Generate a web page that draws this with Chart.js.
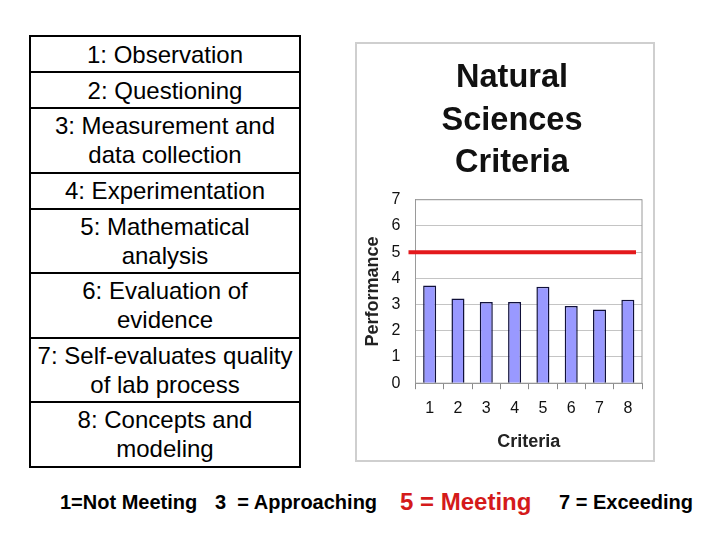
<!DOCTYPE html>
<html lang="en">
<head>
    <meta charset="UTF-8">
    <title>Natural Sciences Criteria</title>
    <script src="https://cdn.jsdelivr.net/npm/chart.js"></script>
    <style>
        body {
            margin: 0;
            width: 720px;
            height: 540px;
            background: white;
            position: relative;
            font-family: Arial, "Liberation Sans", sans-serif;
            overflow: hidden;
        }
        .criteria-list {
            position: absolute;
            left: 29px;
            top: 37px;
            width: 272px;
        }
        .criteria-item {
            box-sizing: border-box;
            border: 2px solid black;
            margin-top: -2px; /* collapse shared borders */
            display: flex;
            align-items: center;
            justify-content: center;
            text-align: center;
            font-size: 24px;
            line-height: 29px;
            color: black;
        }
        .chart-panel {
            position: absolute;
            left: 355px;
            top: 42px;
            width: 300px;
            height: 420px;
            box-sizing: border-box;
            border: 2px solid #cfcfcf;
        }
        .scale-note {
            position: absolute;
            top: 488px;
            font-weight: bold;
            font-size: 20px;
            line-height: 28px;
            white-space: pre;
        }
        .scale-note.meeting {
            color: #d41a1a;
            font-size: 24px;
            top: 488px;
        }
    </style>
</head>
<body>
    <div class="criteria-list" id="criteria-list"></div>

    <div class="chart-panel">
        <canvas id="criteriaChart" width="296" height="416"></canvas>
    </div>

    <div class="scale-note" style="left: 60px;">1=Not Meeting</div>
    <div class="scale-note" style="left: 215px;">3  = Approaching</div>
    <div class="scale-note meeting" style="left: 400px;">5 = Meeting</div>
    <div class="scale-note" style="left: 559px;">7 = Exceeding</div>

    <script>
        const criteriaLabels = ["1", "2", "3", "4", "5", "6", "7", "8"];
        const criteriaNames = [
            ["1: Observation"],
            ["2: Questioning"],
            ["3: Measurement and", "data collection"],
            ["4: Experimentation"],
            ["5: Mathematical", "analysis"],
            ["6: Evaluation of", "evidence"],
            ["7: Self-evaluates quality", "of lab process"],
            ["8: Concepts and", "modeling"]
        ];
        const performance = [3.73, 3.23, 3.10, 3.10, 3.68, 2.95, 2.81, 3.18];
        const meetingLevel = 5;

        // table on the left: one or two lines of text per row
        const list = document.getElementById("criteria-list");
        criteriaNames.forEach(lines => {
            const item = document.createElement("div");
            item.className = "criteria-item";
            item.style.height = (lines.length > 1 ? 66.5 : 38) + "px";
            item.innerHTML = lines.join("<br>");
            list.appendChild(item);
        });

        // frame around the plot area, like the Excel chart
        const plotFrame = {
            id: "plotFrame",
            beforeDatasetsDraw(chart) {
                const { ctx, chartArea } = chart;
                ctx.save();
                ctx.strokeStyle = "#9a9a9a";
                ctx.lineWidth = 1;
                ctx.strokeRect(chartArea.left, chartArea.top, chartArea.width, chartArea.height);
                ctx.restore();
            }
        };

        // red "meeting" line drawn across the bars
        const meetingLine = {
            id: "meetingLine",
            afterDatasetsDraw(chart) {
                const { ctx, chartArea, scales } = chart;
                const y = scales.y.getPixelForValue(meetingLevel);
                ctx.save();
                ctx.strokeStyle = "#e3191c";
                ctx.lineWidth = 4;
                ctx.beginPath();
                ctx.moveTo(chartArea.left - 7, y);
                ctx.lineTo(chartArea.right - 6, y);
                ctx.stroke();
                ctx.restore();
            }
        };

        const ctx = document.getElementById("criteriaChart").getContext("2d");

        new Chart(ctx, {
            type: "bar",
            data: {
                labels: criteriaLabels,
                datasets: [{
                    label: "Performance",
                    data: performance,
                    backgroundColor: "#9999ff",
                    borderColor: "#10103a",
                    borderWidth: 1.5,
                    barPercentage: 0.46,
                    categoryPercentage: 1
                }]
            },
            options: {
                responsive: false,
                animation: false,
                layout: {
                    padding: { left: 25, right: 11, top: 0, bottom: 3 }
                },
                plugins: {
                    legend: { display: false },
                    tooltip: { enabled: false },
                    title: {
                        display: true,
                        text: ["Natural", "Sciences", "Criteria"],
                        color: "#111",
                        font: { family: "Arial, 'Liberation Sans', sans-serif", size: 32.5, weight: "bold", lineHeight: 1.31 },
                        padding: { top: 13, bottom: 15 }
                    }
                },
                scales: {
                    x: {
                        grid: {
                            offset: true,
                            drawOnChartArea: false,
                            tickLength: 6,
                            color: "#8a8a8a"
                        },
                        border: { color: "#8a8a8a" },
                        ticks: {
                            color: "#111",
                            padding: 10,
                            font: { family: "Arial, 'Liberation Sans', sans-serif", size: 16 }
                        },
                        title: {
                            display: true,
                            text: "Criteria",
                            color: "#222",
                            font: { family: "Arial, 'Liberation Sans', sans-serif", size: 18, weight: "bold" },
                            padding: { top: 3, bottom: 4 }
                        }
                    },
                    y: {
                        min: 0,
                        max: 7,
                        ticks: {
                            stepSize: 1,
                            color: "#111",
                            padding: 15,
                            font: { family: "Arial, 'Liberation Sans', sans-serif", size: 16 }
                        },
                        grid: {
                            color: "#c4c4c4",
                            drawTicks: false
                        },
                        border: { color: "#8a8a8a" },
                        title: {
                            display: true,
                            text: "Performance",
                            color: "#222",
                            font: { family: "Arial, 'Liberation Sans', sans-serif", size: 18, weight: "bold" },
                            padding: { top: -20, bottom: -7 }
                        }
                    }
                }
            },
            plugins: [plotFrame, meetingLine]
        });
    </script>
</body>
</html>
